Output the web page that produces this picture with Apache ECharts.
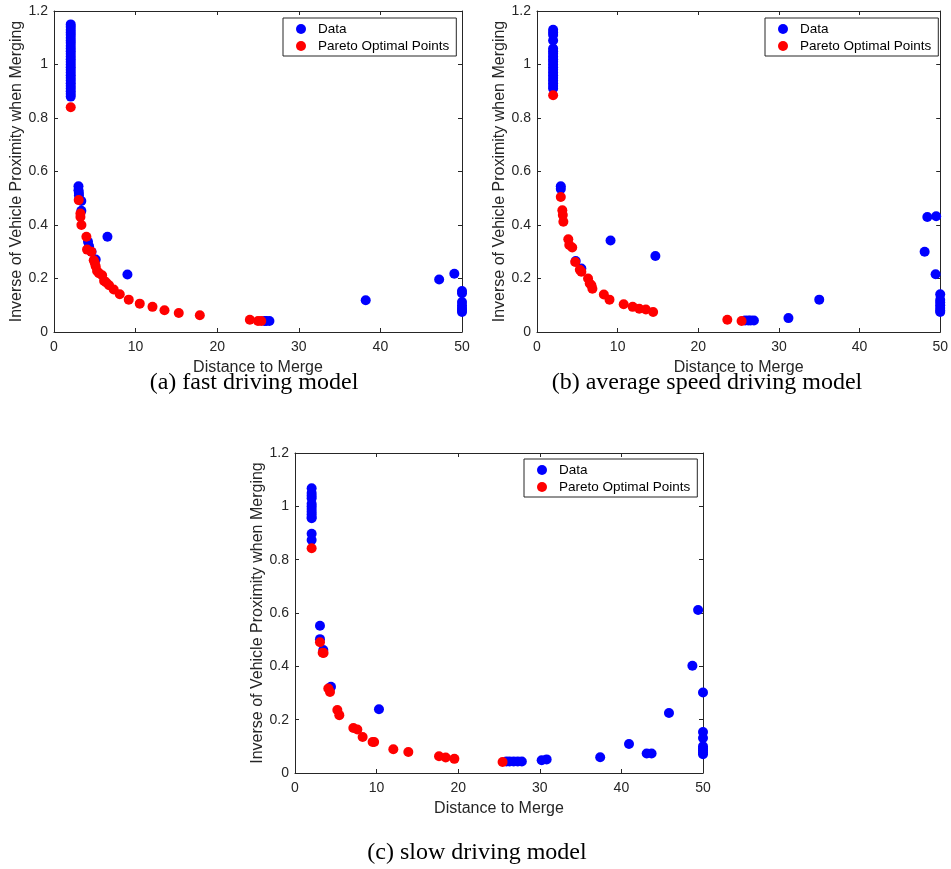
<!DOCTYPE html>
<html>
<head>
<meta charset="utf-8">
<script src="https://cdn.jsdelivr.net/npm/echarts@6/dist/echarts.min.js"></script>
<style>html,body{margin:0;padding:0;background:#fff;}#c{width:951px;height:869px;}</style>
</head>
<body>
<div id="c"></div>
<script>
// ---- data ----
var xTicks = [0, 10, 20, 30, 40, 50];
var yTicks = [0, 0.2, 0.4, 0.6, 0.8, 1, 1.2];
var captions = ['(a) fast driving model', '(b) average speed driving model', '(c) slow driving model'];
var xName = 'Distance to Merge';
var yName = 'Inverse of Vehicle Proximity when Merging';
var legendNames = ['Data', 'Pareto Optimal Points'];

// (a) fast driving model
var fastColumnY = [1.15,1.14,1.13,1.12,1.11,1.10,1.09,1.08,1.07,1.06,1.05,1.04,1.03,1.02,1.01,1.00,0.99,0.98,0.97,0.96,0.95,0.94,0.93,0.92,0.91,0.90,0.89,0.88];
var fastColumnX = 2.05;
var fastData = [[3.0,0.545],[3.0,0.53],[3.05,0.52],[3.05,0.51],[3.35,0.49],[3.35,0.453],[4.17,0.337],[4.3,0.32],[4.6,0.30],[5.11,0.271],[6.55,0.356],[9.0,0.215],[25.8,0.041],[26.0,0.041],[26.4,0.041],[38.2,0.119],[47.2,0.196],[49.06,0.218],[50,0.153],[50,0.145],[50,0.112],[50,0.10],[50,0.09],[50,0.082],[50,0.075]];
var fastPareto = [[2.05,0.84],[3.03,0.493],[3.24,0.443],[3.24,0.43],[3.36,0.40],[3.97,0.356],[4.05,0.308],[4.58,0.30],[4.87,0.268],[5.0,0.258],[5.11,0.246],[5.28,0.228],[5.5,0.22],[5.9,0.212],[6.14,0.191],[6.4,0.185],[6.75,0.175],[7.32,0.159],[8.06,0.141],[9.16,0.121],[10.51,0.106],[12.07,0.094],[13.54,0.081],[15.29,0.071],[17.87,0.0625],[24.0,0.046],[25.0,0.041],[25.4,0.041]];

// (b) average speed driving model
var avgColumnY = [1.13,1.12,1.11,1.09,1.06,1.05,1.04,1.03,1.02,1.01,1.00,0.99,0.98,0.97,0.96,0.95,0.94,0.93,0.92,0.91];
var avgColumnX = 2.0;
var avgData = [[2.95,0.545],[2.95,0.535],[4.8,0.265],[5.5,0.237],[9.12,0.342],[14.68,0.284],[25.8,0.043],[26.2,0.043],[26.5,0.043],[26.9,0.043],[31.18,0.052],[35.0,0.121],[48.07,0.30],[48.4,0.43],[49.5,0.433],[49.43,0.216],[50,0.141],[50,0.12],[50,0.11],[50,0.10],[50,0.09],[50,0.08],[50,0.075]];
var avgPareto = [[2.0,0.885],[2.95,0.505],[3.14,0.455],[3.2,0.437],[3.27,0.412],[3.88,0.347],[4.0,0.325],[4.37,0.316],[4.74,0.262],[5.31,0.233],[5.5,0.225],[6.33,0.2],[6.54,0.181],[6.75,0.175],[6.87,0.162],[8.29,0.14],[8.99,0.121],[10.75,0.104],[11.86,0.094],[12.68,0.087],[13.5,0.084],[14.4,0.075],[23.6,0.046],[25.37,0.041]];

// (c) slow driving model
var slowColumnY = [1.068,1.05,1.04,1.03,1.01,1.0,0.99,0.98,0.97,0.96,0.955,0.897,0.874];
var slowColumnX = 2.04;
var slowData = [[3.06,0.552],[3.06,0.502],[3.47,0.461],[4.41,0.323],[10.29,0.239],[25.9,0.043],[26.3,0.043],[26.8,0.043],[27.3,0.043],[27.8,0.043],[30.23,0.048],[30.84,0.051],[37.4,0.059],[40.93,0.109],[43.1,0.073],[43.7,0.073],[45.83,0.225],[48.7,0.402],[49.4,0.611],[50,0.302],[50,0.154],[50,0.131],[50,0.1],[50,0.092],[50,0.085],[50,0.078],[50,0.07]];
var slowPareto = [[2.04,0.843],[3.06,0.49],[3.39,0.451],[3.5,0.45],[4.08,0.317],[4.29,0.304],[5.19,0.236],[5.43,0.217],[7.15,0.169],[7.64,0.163],[8.29,0.135],[9.51,0.116],[9.7,0.116],[12.05,0.089],[13.89,0.079],[17.65,0.063],[18.47,0.058],[19.53,0.053],[25.44,0.041]];

// ---- build ----
function withColumn(x, ys, rest) {
  return ys.map(function (y) { return [x, y]; }).concat(rest);
}
var panels = [
  { data: withColumn(fastColumnX, fastColumnY, fastData), pareto: fastPareto,
    grid: { left: 54, top: 11, width: 408, height: 321 }, legend: { left: 283, top: 18 }, cap: { x: 254, y: 383 } },
  { data: withColumn(avgColumnX, avgColumnY, avgData), pareto: avgPareto,
    grid: { left: 537, top: 11, width: 407, height: 321 }, legend: { left: 765, top: 18 }, cap: { x: 707, y: 383 } },
  { data: withColumn(slowColumnX, slowColumnY, slowData), pareto: slowPareto,
    grid: { left: 295, top: 453, width: 408, height: 320 }, legend: { left: 524, top: 459 }, cap: { x: 477, y: 853 } }
];

var axisColor = '#262626';
var font = 'Liberation Sans, Arial, Helvetica, sans-serif';
var option = {
  animation: false,
  backgroundColor: '#ffffff',
  grid: [], xAxis: [], yAxis: [], series: [], legend: [], graphic: []
};

panels.forEach(function (p, i) {
  option.grid.push(Object.assign({ show: false }, p.grid));
  var xmin = xTicks[0], xmax = xTicks[xTicks.length - 1];
  var ymin = yTicks[0], ymax = yTicks[yTicks.length - 1];
  var xint = xTicks[1] - xTicks[0], yint = yTicks[1] - yTicks[0];
  var baseX = {
    type: 'value', gridIndex: i, min: xmin, max: xmax, interval: xint,
    splitLine: { show: false },
    axisLine: { show: true, onZero: false, lineStyle: { color: axisColor, width: 1 } },
    axisTick: { show: true, inside: true, length: 4, lineStyle: { color: axisColor } }
  };
  var baseY = {
    type: 'value', gridIndex: i, min: ymin, max: ymax, interval: yint,
    splitLine: { show: false },
    axisLine: { show: true, onZero: false, lineStyle: { color: axisColor, width: 1 } },
    axisTick: { show: true, inside: true, length: 4, lineStyle: { color: axisColor } }
  };
  option.xAxis.push(Object.assign({}, baseX, {
    position: 'bottom',
    name: xName, nameLocation: 'middle', nameGap: 28,
    nameTextStyle: { fontFamily: font, fontSize: 16, color: axisColor },
    axisLabel: { show: true, margin: 8, fontFamily: font, fontSize: 14, color: axisColor }
  }));
  option.xAxis.push(Object.assign({}, baseX, { position: 'top', axisLabel: { show: false } }));
  option.yAxis.push(Object.assign({}, baseY, {
    position: 'left',
    name: yName, nameLocation: 'middle', nameGap: 28,
    nameTextStyle: { fontFamily: font, fontSize: 16, color: axisColor },
    axisLabel: { show: true, margin: 6, fontFamily: font, fontSize: 14, color: axisColor }
  }));
  option.yAxis.push(Object.assign({}, baseY, { position: 'right', axisLabel: { show: false } }));

  var xi = i * 2, yi = i * 2;
  option.series.push({
    type: 'scatter', name: legendNames[0], xAxisIndex: xi, yAxisIndex: yi,
    data: p.data, symbol: 'circle', symbolSize: 10, clip: false,
    itemStyle: { color: '#0000ff', opacity: 1 }, z: 2
  });
  option.series.push({
    type: 'scatter', name: legendNames[1], xAxisIndex: xi, yAxisIndex: yi,
    data: p.pareto, symbol: 'circle', symbolSize: 10, clip: false,
    itemStyle: { color: '#ff0000', opacity: 1 }, z: 3
  });
  option.legend.push({
    data: legendNames.slice(), orient: 'vertical', left: p.legend.left, top: p.legend.top,
    icon: 'circle', itemWidth: 24, itemHeight: 10, itemGap: 3,
    padding: [4, 7, 3, 13], backgroundColor: '#ffffff',
    borderColor: '#262626', borderWidth: 1, borderRadius: 0,
    selectedMode: false,
    textStyle: { fontFamily: font, fontSize: 13.5, color: '#000', lineHeight: 14 }
  });
  option.graphic.push({
    type: 'text', x: p.cap.x, y: p.cap.y,
    style: { text: captions[i], font: '24px "Liberation Serif", "Times New Roman", serif', fill: '#000',
      textAlign: 'center', textVerticalAlign: 'middle' }
  });
});

var chart = echarts.init(document.getElementById('c'), null, { renderer: 'canvas' });
chart.setOption(option);
</script>
</body>
</html>
